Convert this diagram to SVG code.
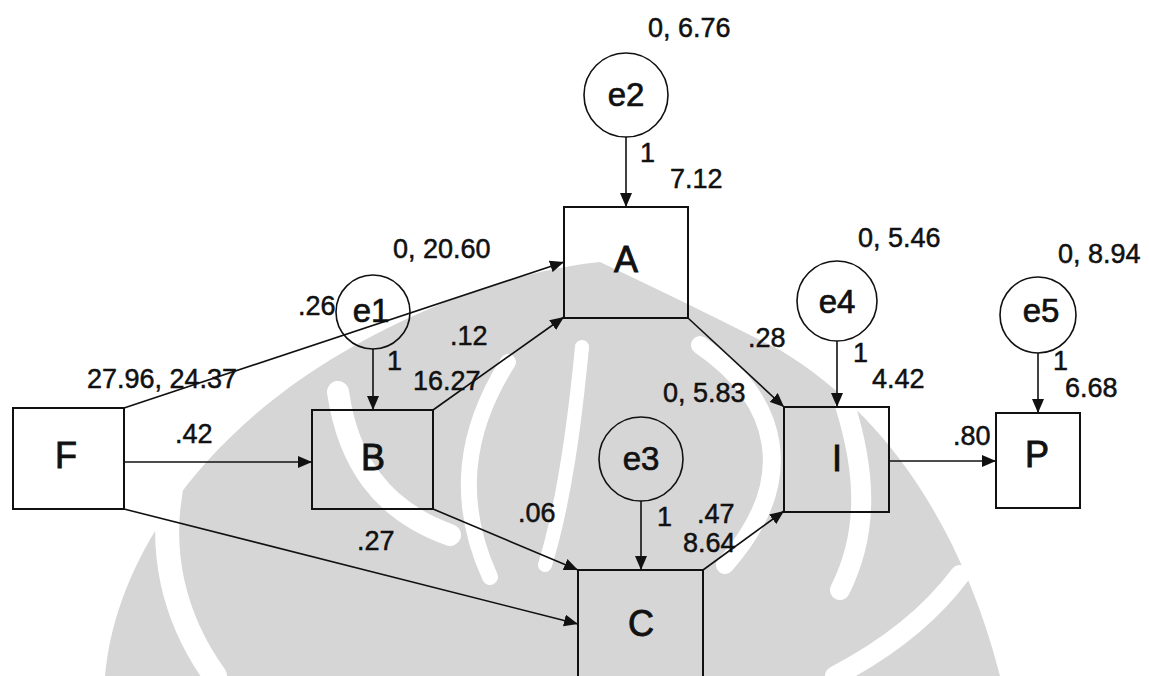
<svg xmlns="http://www.w3.org/2000/svg" width="1149" height="676" viewBox="0 0 1149 676">
<defs>
<style>
.bg{fill:#ffffff}
.wm{fill:#d6d6d6}
.wb{fill:none;stroke:#ffffff;stroke-linecap:round}
.box{fill:none;stroke:#111;stroke-width:2}
.circ{fill:none;stroke:#111;stroke-width:1.6}
.edge{fill:none;stroke:#111;stroke-width:1.6}
.num{font-family:"Liberation Sans",Arial,sans-serif;font-size:27px;fill:#111;stroke:#111;stroke-width:0.5}
.lbl{font-family:"Liberation Sans",Arial,sans-serif;font-size:36px;fill:#111;stroke:#111;stroke-width:0.9;text-anchor:middle}
.elbl{font-family:"Liberation Sans",Arial,sans-serif;font-size:33px;fill:#111;stroke:#111;stroke-width:0.7;text-anchor:middle}
</style>
<marker id="arr" viewBox="0 0 14 12" refX="14" refY="6" markerWidth="14" markerHeight="12" markerUnits="userSpaceOnUse" orient="auto">
<path d="M0,0 L14,6 L0,12 Z" fill="#111"/>
</marker>
</defs>
<rect class="bg" x="0" y="0" width="1149" height="676"/>
<g id="watermark">
<path class="wm" d="M105 676 C115 560 200 440 330 360 C420 305 520 270 600 262 C660 290 720 320 780 350 C880 410 960 520 1000 676 Z"/>
<path class="wb" stroke-width="24" d="M175 470 C155 550 175 620 215 676"/>
<path class="wb" stroke-width="22" d="M338 392 C348 460 380 510 450 535"/>
<path class="wb" stroke-width="14" d="M582 347 C575 420 565 500 545 565"/>
<path class="wb" stroke-width="16" d="M508 362 C465 430 455 500 490 577"/>
<path class="wb" stroke-width="18" d="M700 345 C780 400 800 480 725 565"/>
<path class="wb" stroke-width="20" d="M845 405 C865 470 870 530 840 590"/>
<path class="wb" stroke-width="20" d="M960 575 C930 615 885 650 835 676"/>
</g>
<g id="connectors">
<line class="edge" x1="626" y1="137" x2="626" y2="207" marker-end="url(#arr)"/>
<line class="edge" x1="373" y1="349" x2="373" y2="410" marker-end="url(#arr)"/>
<line class="edge" x1="641" y1="501" x2="641" y2="570" marker-end="url(#arr)"/>
<line class="edge" x1="837" y1="341" x2="837" y2="407" marker-end="url(#arr)"/>
<line class="edge" x1="1038" y1="353" x2="1038" y2="413" marker-end="url(#arr)"/>
<line class="edge" x1="124" y1="462" x2="312" y2="462" marker-end="url(#arr)"/>
<line class="edge" x1="124" y1="408" x2="564" y2="262" marker-end="url(#arr)"/>
<line class="edge" x1="433" y1="410" x2="564" y2="317" marker-end="url(#arr)"/>
<line class="edge" x1="124" y1="509" x2="578" y2="624" marker-end="url(#arr)"/>
<line class="edge" x1="433" y1="509" x2="578" y2="570" marker-end="url(#arr)"/>
<line class="edge" x1="688" y1="318" x2="784" y2="407" marker-end="url(#arr)"/>
<line class="edge" x1="703" y1="570" x2="784" y2="511" marker-end="url(#arr)"/>
<line class="edge" x1="889" y1="461" x2="996" y2="461" marker-end="url(#arr)"/>
</g>
<g id="node-F">
<rect class="box" x="13" y="408" width="111" height="101"/>
<text class="lbl" x="66" y="468">F</text>
</g>
<g id="node-B">
<rect class="box" x="312" y="410" width="121" height="99"/>
<text class="lbl" x="373" y="470">B</text>
</g>
<g id="node-A">
<rect class="box" x="564" y="207" width="124" height="111"/>
<text class="lbl" x="626" y="272">A</text>
</g>
<g id="node-C">
<path class="box" d="M578 690 V570 H703 V690"/>
<text class="lbl" x="641" y="636">C</text>
</g>
<g id="node-I">
<rect class="box" x="784" y="407" width="105" height="105"/>
<text class="lbl" x="837" y="471">I</text>
</g>
<g id="node-P">
<rect class="box" x="996" y="413" width="84" height="95"/>
<text class="lbl" x="1037" y="467">P</text>
</g>
<g id="node-e1">
<circle class="circ" cx="373" cy="312" r="37"/>
<text class="elbl" x="371" y="322">e1</text>
</g>
<g id="node-e2">
<circle class="circ" cx="626" cy="95" r="42"/>
<text class="elbl" x="626" y="106">e2</text>
</g>
<g id="node-e3">
<circle class="circ" cx="641" cy="459" r="42"/>
<text class="elbl" x="641" y="470">e3</text>
</g>
<g id="node-e4">
<circle class="circ" cx="837" cy="301" r="40"/>
<text class="elbl" x="837" y="313">e4</text>
</g>
<g id="node-e5">
<circle class="circ" cx="1038" cy="315" r="38"/>
<text class="elbl" x="1041" y="322">e5</text>
</g>
<g id="labels">
<text class="num" x="648" y="37">0, 6.76</text>
<text class="num" x="640" y="162">1</text>
<text class="num" x="670" y="188">7.12</text>
<text class="num" x="393" y="258">0, 20.60</text>
<text class="num" x="298" y="315">.26</text>
<text class="num" x="387" y="370">1</text>
<text class="num" x="450" y="345">.12</text>
<text class="num" x="413" y="390">16.27</text>
<text class="num" x="87" y="388">27.96, 24.37</text>
<text class="num" x="175" y="443">.42</text>
<text class="num" x="357" y="550">.27</text>
<text class="num" x="518" y="522">.06</text>
<text class="num" x="657" y="526">1</text>
<text class="num" x="697" y="523">.47</text>
<text class="num" x="683" y="552">8.64</text>
<text class="num" x="748" y="347">.28</text>
<text class="num" x="663" y="402">0, 5.83</text>
<text class="num" x="853" y="362">1</text>
<text class="num" x="872" y="388">4.42</text>
<text class="num" x="858" y="247">0, 5.46</text>
<text class="num" x="1053" y="370">1</text>
<text class="num" x="1065" y="397">6.68</text>
<text class="num" x="1058" y="263">0, 8.94</text>
<text class="num" x="953" y="445">.80</text>
</g>
</svg>
